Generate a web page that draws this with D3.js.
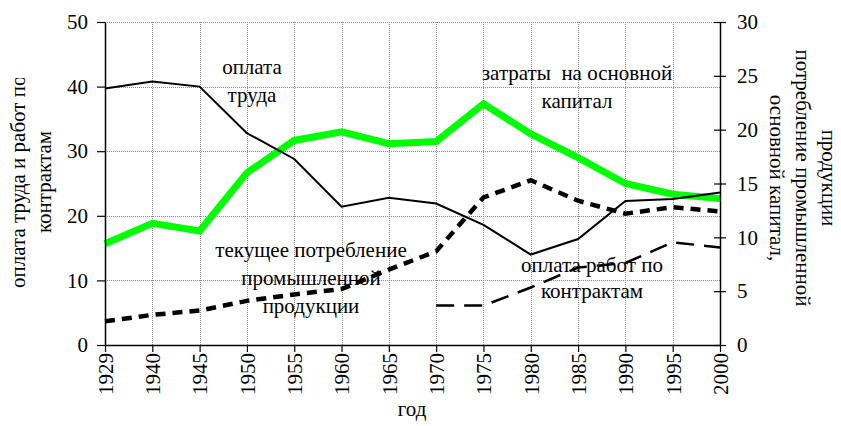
<!DOCTYPE html>
<html>
<head>
<meta charset="utf-8">
<script src="https://cdn.jsdelivr.net/npm/d3@7"></script>
<style>
  body { margin: 0; background: #fff; }
  svg { display: block; }
  svg text { font-family: 'Liberation Serif', 'DejaVu Serif', 'Times New Roman', serif; }
</style>
</head>
<body>
<div class="chart"></div>
<script>
'use strict';

// categories on the x axis
var years = ['1929', '1940', '1945', '1950', '1955', '1960', '1965',
             '1970', '1975', '1980', '1985', '1990', '1995', '2000'];

// left axis series (%)
var labour    = [39.7, 40.8, 40.0, 32.8, 28.8, 21.4, 22.8, 21.9, 18.6, 14.0, 16.4, 22.3, 22.6, 23.6];
var contracts = [null, null, null, null, null, null, null, 6.1, 6.1, 8.9, 12.0, 12.7, 15.9, 15.1];

// right axis series (%)
var capital     = [9.4, 11.3, 10.6, 16.0, 19.0, 19.8, 18.7, 18.9, 22.4, 19.6, 17.4, 15.0, 14.0, 13.6];
var consumption = [2.2, 2.8, 3.2, 4.1, 4.7, 5.2, 7.0, 8.7, 13.7, 15.3, 13.4, 12.2, 12.8, 12.4];

var leftTicks  = [0, 10, 20, 30, 40, 50];
var rightTicks = [0, 5, 10, 15, 20, 25, 30];

var width = 841, height = 426;
var margin = {top: 22, right: 121, bottom: 81, left: 105};
var x0 = margin.left, x1 = width - margin.right
  , y0 = height - margin.bottom, y1 = margin.top;

var font = 21;

var x = d3.scalePoint().domain(years).range([x0, x1]);
var yL = d3.scaleLinear().domain([0, 50]).range([y0, y1]);
var yR = d3.scaleLinear().domain([0, 30]).range([y0, y1]);

var svg = d3.select('.chart').append('svg')
    .attr('width', width)
    .attr('height', height)
    .attr('font-size', font);

// grid
var grid = svg.append('g')
    .attr('stroke', '#8a8a8a')
    .attr('stroke-width', 1)
    .attr('stroke-dasharray', '1,1');
grid.selectAll('line.h').data(leftTicks.slice(1)).enter().append('line')
    .attr('x1', x0).attr('x2', x1)
    .attr('y1', function(d) { return Math.round(yL(d)) + 0.5; })
    .attr('y2', function(d) { return Math.round(yL(d)) + 0.5; });
grid.selectAll('line.v').data(years.slice(1, -1)).enter().append('line')
    .attr('y1', y1).attr('y2', y0)
    .attr('x1', function(d) { return Math.round(x(d)) + 0.5; })
    .attr('x2', function(d) { return Math.round(x(d)) + 0.5; });

// series
function series(values, scale, style) {
  var line = d3.line()
      .defined(function(d) { return d != null; })
      .x(function(d, i) { return x(years[i]); })
      .y(function(d) { return scale(d); });
  svg.append('path')
      .datum(values)
      .attr('fill', 'none')
      .attr('stroke', style.color)
      .attr('stroke-width', style.width)
      .attr('stroke-dasharray', style.dash || null)
      .attr('d', line);
}

series(capital, yR, {color: '#00ff00', width: 7});
series(labour, yL, {color: '#000', width: 2});
series(consumption, yR, {color: '#000', width: 4.5, dash: '10,7'});
series(contracts, yL, {color: '#000', width: 2.5, dash: '18,10'});

// axes
var axisL = svg.append('g')
    .attr('transform', 'translate(' + x0 + ',0)')
    .call(d3.axisLeft(yL).tickValues(leftTicks).tickSizeInner(8).tickSizeOuter(0).tickPadding(9));
var axisR = svg.append('g')
    .attr('transform', 'translate(' + x1 + ',0)')
    .call(d3.axisRight(yR).tickValues(rightTicks).tickSizeInner(6).tickSizeOuter(0).tickPadding(11));
axisR.selectAll('.tick line').attr('x1', -6);
var axisB = svg.append('g')
    .attr('transform', 'translate(0,' + y0 + ')')
    .call(d3.axisBottom(x).tickSizeInner(7).tickSizeOuter(0).tickPadding(0));
axisB.selectAll('.tick text')
    .attr('transform', 'rotate(-90)')
    .attr('text-anchor', 'end')
    .attr('x', -8)
    .attr('y', 0)
    .attr('dy', '0.35em');

[axisL, axisR, axisB].forEach(function(a) {
  a.attr('font-family', null).attr('font-size', font);
  a.selectAll('.domain').attr('stroke', '#000').attr('stroke-width', 1.5);
  a.selectAll('.tick line').attr('stroke', '#000').attr('stroke-width', 1.2);
  a.selectAll('.tick text').attr('fill', '#000');
});

// axis titles
svg.append('text')
    .attr('x', 412).attr('y', 416)
    .attr('text-anchor', 'middle')
    .text('год');

// the first line of the left title is cut at the top in the original
svg.append('clipPath').attr('id', 'lclip')
  .append('rect').attr('x', 0).attr('y', 78).attr('width', 80).attr('height', 348);
var leftTitle = svg.append('g').attr('clip-path', 'url(#lclip)');
leftTitle.append('text')
    .attr('transform', 'translate(25,288) rotate(-90)')
    .text('оплата труда и работ по');
leftTitle.append('text')
    .attr('transform', 'translate(51,182) rotate(-90)')
    .attr('text-anchor', 'middle')
    .text('контрактам');

var rightLines = ['основной капитал,', 'потребление промышленной', 'продукции'];
svg.selectAll('text.rt').data(rightLines).enter().append('text')
    .attr('transform', function(d, i) { return 'translate(' + (770 + i * 26) + ',178) rotate(90)'; })
    .attr('text-anchor', 'middle')
    .text(function(d) { return d; });

// annotations
var notes = [
  {lines: ['оплата', 'труда'], cx: 252, y: 74, gap: 28},
  {lines: ['затраты  на основной', 'капитал'], cx: 577, y: 80, gap: 28},
  {lines: ['текущее потребление', 'промышленной', 'продукции'], cx: 311, y: 257, gap: 28},
  {lines: ['оплата работ по', 'контрактам'], cx: 592, y: 272, gap: 26}
];
notes.forEach(function(n) {
  svg.append('text')
      .attr('text-anchor', 'middle')
      .style('white-space', 'pre')
    .selectAll('tspan').data(n.lines).enter().append('tspan')
      .attr('x', n.cx)
      .attr('y', function(d, i) { return n.y + i * n.gap; })
      .text(function(d) { return d; });
});
</script>
</body>
</html>
